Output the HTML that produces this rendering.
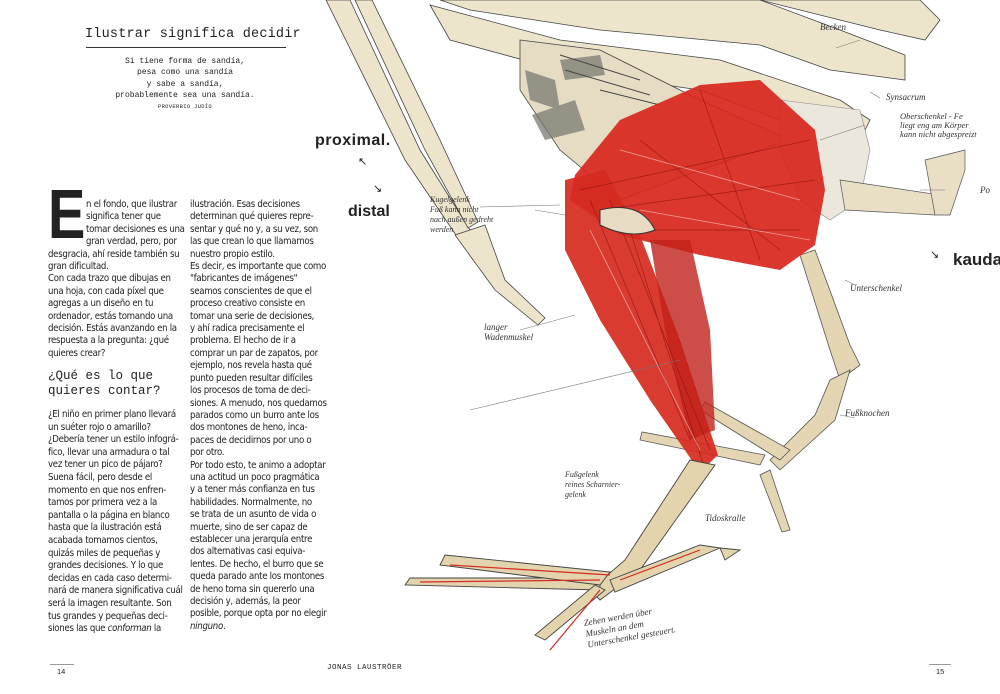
<!DOCTYPE html>
<html><head><meta charset="utf-8"><style>
*{margin:0;padding:0}
body{width:1000px;height:694px;background:#fff;position:relative;overflow:hidden;font-family:"Liberation Sans",sans-serif;color:#222}
.t{position:absolute;white-space:nowrap}
.col{position:absolute;font-size:9.6px;line-height:12.4px;color:#222;white-space:nowrap;font-family:"DejaVu Sans Condensed","Liberation Sans Narrow","Liberation Sans",sans-serif;letter-spacing:-0.3px}
.mono{font-family:"Liberation Mono",monospace}
.hw{position:absolute;font-family:"Liberation Serif",serif;font-style:italic;color:#333;font-size:9px;white-space:nowrap}
</style></head><body>
<svg width="1000" height="694" style="position:absolute;left:0;top:0">
<g stroke="#444" stroke-width="0.8" fill="#ede4cc">
<path d="M326 0 L350 0 L420 150 L470 230 L458 238 L405 160 Z"/>
<path d="M355 0 L372 0 L440 140 L478 222 L468 228 L425 150 Z"/>
<path d="M455 235 L485 225 L505 280 L545 318 L538 325 L495 290 Z"/>
<path d="M440 0 L760 0 L840 30 L905 55 L905 80 L830 70 L760 45 L600 30 L470 10 Z"/>
<path d="M760 0 L920 0 L940 20 L925 40 L880 30 Z"/>
<path d="M430 5 L560 40 L720 60 L840 100 L870 120 L860 140 L820 135 L700 90 L560 70 L450 40 Z"/>
<path d="M520 40 L600 50 L700 100 L790 140 L700 170 L620 200 L560 150 L520 90 Z" fill="#e6dcc4"/>
</g>
<g fill="#7a7a72" opacity="0.75">
<path d="M525 70 L555 80 L560 110 L530 100 Z"/>
<path d="M532 115 L575 100 L585 130 L545 140 Z"/>
<path d="M560 60 L600 55 L605 75 L565 80 Z"/>
</g>
<g stroke="#444" stroke-width="1" fill="none">
<path d="M560 55 L640 80 M565 70 L650 95 M600 90 L660 105"/>
</g>
<path d="M780 100 L860 110 L870 150 L860 200 L830 220 L800 200 L780 150 Z" fill="#ece7dc" stroke="#888" stroke-width="0.6"/>
<g fill="#e8dfc5" stroke="#555" stroke-width="0.7">
<path d="M840 180 L940 195 L935 215 L845 210 Z"/>
<path d="M925 160 L965 150 L965 170 L950 215 L935 215 Z"/>
</g>
<g fill="#e4d6b3" stroke="#555" stroke-width="0.8">
<path d="M800 255 L815 250 L850 345 L860 365 L840 380 L830 350 Z"/>
<path d="M830 380 L850 370 L835 420 L780 470 L770 460 L815 415 Z"/>
<path d="M780 460 L700 410 L705 402 L790 450 Z"/>
<path d="M770 470 L790 530 L782 532 L760 475 Z"/>
<path d="M760 465 L640 440 L642 432 L765 455 Z"/>
</g>
<path d="M620 120 L700 85 L760 80 L815 130 L825 190 L815 245 L780 270 L700 255 L620 235 L570 200 L575 175 Z" fill="#d8261c" opacity="0.92"/>
<path d="M565 180 L605 170 L640 235 L680 340 L718 455 L700 472 L650 400 L600 320 L565 250 Z" fill="#d62a1f" opacity="0.92"/>
<path d="M650 240 L690 240 L710 330 L715 430 L690 440 L665 330 Z" fill="#c0221a" opacity="0.8"/>
<g stroke="#8a0f0a" stroke-width="0.7" opacity="0.7">
<path d="M580 190 L810 140 M600 210 L815 180 M620 230 L800 230 M640 140 L780 250 M700 90 L760 260 M590 200 L690 440 M610 200 L710 450 M630 230 L705 470"/>
</g>
<g stroke="#fff" stroke-width="0.8" opacity="0.5">
<path d="M590 230 L700 450 M620 150 L800 200 M640 210 L810 240"/>
</g>
<path d="M600 210 Q640 200 655 230 Q630 240 600 225 Z" fill="#e7dcc3" stroke="#333"/>
<g fill="#e3d4ae" stroke="#444" stroke-width="0.9">
<path d="M690 460 L715 465 L640 570 L600 600 L590 590 L625 560 Z"/>
<path d="M600 590 L405 585 L410 578 L600 578 Z"/>
<path d="M600 585 L440 565 L445 555 L610 572 Z"/>
<path d="M610 580 L700 545 L720 548 L615 592 Z"/>
<path d="M605 590 L545 640 L535 635 L595 585 Z"/>
<path d="M720 548 L740 550 L725 560 Z"/>
</g>
<g stroke="#d42a20" stroke-width="1.2" fill="none">
<path d="M420 582 L600 580 M450 565 L610 575 M600 590 L550 650 M620 580 L700 550"/>
</g>
<g stroke="#777" stroke-width="0.6" fill="none">
<path d="M480 207 L560 205 M535 210 L565 215 M520 330 L575 315 M836 48 L860 40 M870 92 L880 98 M865 125 L820 140 M920 190 L945 190 M470 410 L680 360 M845 280 L855 285 M855 418 L840 415"/>
</g>
</svg>
<div class="t mono" style="left:85px;top:27px;font-size:13.5px;letter-spacing:0.2px">Ilustrar significa decidir</div>
<div style="position:absolute;left:86px;top:47px;width:200px;border-top:1px solid #333"></div>
<div class="t mono" style="left:85px;top:56px;width:200px;text-align:center;font-size:8px;line-height:11.3px;white-space:normal">Si tiene forma de sandía,<br>pesa como una sandía<br>y sabe a sandía,<br>probablemente sea una sandía.<br><span style="font-size:5.5px;line-height:12px;letter-spacing:0.3px">PROVERBIO JUDÍO</span></div>
<div class="t" style="left:315px;top:132px;font-size:16px;font-weight:bold;color:#222;letter-spacing:0.5px">proximal.</div>
<div class="t" style="left:358px;top:155px;font-size:11px">↖</div>
<div class="t" style="left:373px;top:182px;font-size:11px">↘</div>
<div class="t" style="left:348px;top:203px;font-size:16px;font-weight:bold;color:#222">distal</div>
<div class="t" style="left:930px;top:248px;font-size:11px">↘</div>
<div class="t" style="left:953px;top:250px;font-size:17px;font-weight:bold;color:#222">kauda</div>
<div class="hw" style="left:820px;top:22px">Becken</div>
<div class="hw" style="left:886px;top:92px">Synsacrum</div>
<div class="hw" style="left:900px;top:112px;line-height:9px;font-size:8.5px">Oberschenkel - Fe<br>liegt eng am Körper<br>kann nicht abgespreizt</div>
<div class="hw" style="left:980px;top:185px">Po</div>
<div class="hw" style="left:430px;top:195px;line-height:10px;font-size:8px">Kugelgelenk<br>Fuß kann nicht<br>nach außen gedreht<br>werden</div>
<div class="hw" style="left:850px;top:283px">Unterschenkel</div>
<div class="hw" style="left:484px;top:322px;line-height:10px">langer<br>Wadenmuskel</div>
<div class="hw" style="left:845px;top:408px">Fußknochen</div>
<div class="hw" style="left:565px;top:470px;line-height:10px;font-size:8px">Fußgelenk<br>reines Scharnier-<br>gelenk</div>
<div class="hw" style="left:705px;top:513px">Tidoskralle</div>
<div class="hw" style="left:585px;top:610px;line-height:11px;transform:rotate(-10deg)">Zehen werden über<br>Muskeln an dem<br>Unterschenkel gesteuert.</div>
<div class="t" style="left:48px;top:186px;font-size:70px;line-height:56px;font-weight:bold;font-family:'Liberation Sans',sans-serif;transform:scaleX(0.8);transform-origin:left top;height:56px;overflow:hidden">E</div>
<div class="col" style="left:86px;top:199px">n el fondo, que ilustrar<br>significa tener que<br>tomar decisiones es una<br>gran verdad, pero, por</div>
<div class="col" style="left:48px;top:248.6px">desgracia, ahí reside también su<br>gran dificultad.<br>Con cada trazo que dibujas en<br>una hoja, con cada píxel que<br>agregas a un diseño en tu<br>ordenador, estás tomando una<br>decisión. Estás avanzando en la<br>respuesta a la pregunta: ¿qué<br>quieres crear?</div>
<div class="t mono" style="left:48px;top:369px;font-size:12.5px;line-height:14.5px">¿Qué es lo que<br>quieres contar?</div>
<div class="col" style="left:48px;top:409px;line-height:12.6px">¿El niño en primer plano llevará<br>un suéter rojo o amarillo?<br>¿Debería tener un estilo infográ-<br>fico, llevar una armadura o tal<br>vez tener un pico de pájaro?<br>Suena fácil, pero desde el<br>momento en que nos enfren-<br>tamos por primera vez a la<br>pantalla o la página en blanco<br>hasta que la ilustración está<br>acabada tomamos cientos,<br>quizás miles de pequeñas y<br>grandes decisiones. Y lo que<br>decidas en cada caso determi-<br>nará de manera significativa cuál<br>será la imagen resultante. Son<br>tus grandes y pequeñas deci-<br>siones las que <i>conforman</i> la</div>
<div class="col" style="left:190px;top:199px">ilustración. Esas decisiones<br>determinan qué quieres repre-<br>sentar y qué no y, a su vez, son<br>las que crean lo que llamamos<br>nuestro propio estilo.<br>Es decir, es importante que como<br>"fabricantes de imágenes"<br>seamos conscientes de que el<br>proceso creativo consiste en<br>tomar una serie de decisiones,<br>y ahí radica precisamente el<br>problema. El hecho de ir a<br>comprar un par de zapatos, por<br>ejemplo, nos revela hasta qué<br>punto pueden resultar difíciles<br>los procesos de toma de deci-<br>siones. A menudo, nos quedamos<br>parados como un burro ante los<br>dos montones de heno, inca-<br>paces de decidirnos por uno o<br>por otro.<br>Por todo esto, te animo a adoptar<br>una actitud un poco pragmática<br>y a tener más confianza en tus<br>habilidades. Normalmente, no<br>se trata de un asunto de vida o<br>muerte, sino de ser capaz de<br>establecer una jerarquía entre<br>dos alternativas casi equiva-<br>lentes. De hecho, el burro que se<br>queda parado ante los montones<br>de heno toma sin quererlo una<br>decisión y, además, la peor<br>posible, porque opta por no elegir<br><i>ninguno</i>.</div>
<div style="position:absolute;left:50px;top:664px;width:24px;border-top:1px solid #999"></div>
<div class="t" style="left:57px;top:667px;font-size:7.5px">14</div>
<div class="t mono" style="left:327px;top:664px;font-size:7.5px;letter-spacing:0.5px">JONAS LAUSTRÖER</div>
<div style="position:absolute;left:929px;top:664px;width:22px;border-top:1px solid #999"></div>
<div class="t" style="left:936px;top:667px;font-size:7.5px">15</div>
</body></html>
